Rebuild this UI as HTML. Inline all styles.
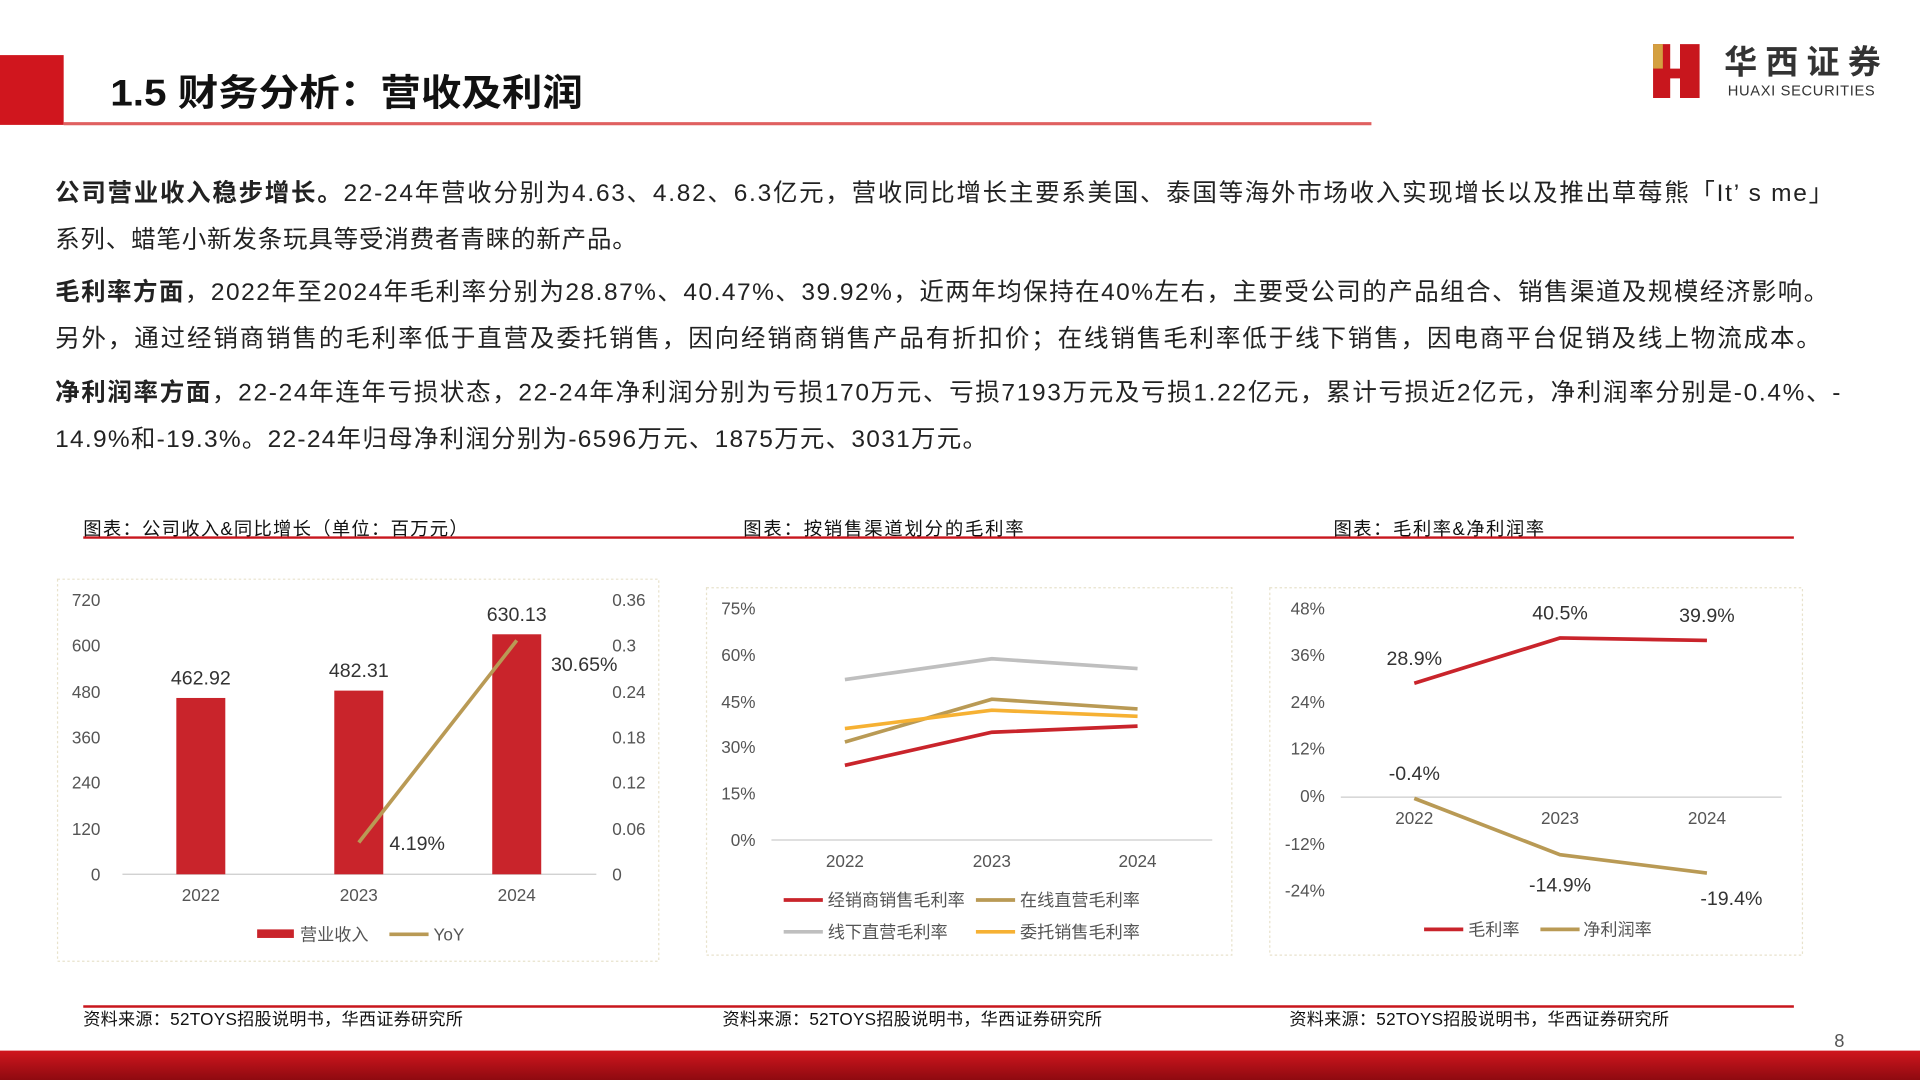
<!DOCTYPE html>
<html><head><meta charset="utf-8"><style>
html,body{margin:0;padding:0;background:#fff;}
svg{display:block;}
text{font-family:"Liberation Sans","Noto Sans CJK SC",sans-serif;}
</style></head><body>
<svg width="1920" height="1080" viewBox="0 0 1568 882" xmlns="http://www.w3.org/2000/svg">
<rect width="1568" height="882" fill="#fff"/>
<rect x="0" y="45" width="52" height="57" fill="#d0161e"/>
<line x1="52" y1="101" x2="1120" y2="101" stroke="#e06060" stroke-width="2.5"/>
<text x="90" y="86" font-size="30" font-weight="bold" fill="#111" textLength="386" lengthAdjust="spacingAndGlyphs">1.5 财务分析：营收及利润</text>
<path d="M1350 36 h14 v44 h-14z M1372 36 h16 v44 h-16z M1360 56 h20 v8 h-20z" fill="#c8161d"/>
<path d="M1350 36 h8 v20 h-8z" fill="#d4a040"/>
<text x="1408" y="60" font-size="27" font-weight="bold" fill="#333" textLength="128">华西证券</text>
<text x="1411" y="78" font-size="12" fill="#333" textLength="120">HUAXI SECURITIES</text>
<g font-size="20" fill="#222">
<text x="45" y="164" textLength="1452" lengthAdjust="spacing"><tspan font-weight="bold">公司营业收入稳步增长。</tspan>22-24年营收分别为4.63、4.82、6.3亿元，营收同比增长主要系美国、泰国等海外市场收入实现增长以及推出草莓熊「It’ s me」</text>
<text x="45" y="202" textLength="475" lengthAdjust="spacing">系列、蜡笔小新发条玩具等受消费者青睐的新产品。</text>
<text x="45" y="245" textLength="1448" lengthAdjust="spacing"><tspan font-weight="bold">毛利率方面</tspan>，2022年至2024年毛利率分别为28.87%、40.47%、39.92%，近两年均保持在40%左右，主要受公司的产品组合、销售渠道及规模经济影响。</text>
<text x="45" y="283" textLength="1442" lengthAdjust="spacing">另外，通过经销商销售的毛利率低于直营及委托销售，因向经销商销售产品有折扣价；在线销售毛利率低于线下销售，因电商平台促销及线上物流成本。</text>
<text x="45" y="327" textLength="1458" lengthAdjust="spacing"><tspan font-weight="bold">净利润率方面</tspan>，22-24年连年亏损状态，22-24年净利润分别为亏损170万元、亏损7193万元及亏损1.22亿元，累计亏损近2亿元，净利润率分别是-0.4%、-</text>
<text x="45" y="365" textLength="761" lengthAdjust="spacing">14.9%和-19.3%。22-24年归母净利润分别为-6596万元、1875万元、3031万元。</text>
</g>
<g font-size="15" fill="#111">
<text x="68" y="437" textLength="314">图表：公司收入&amp;同比增长（单位：百万元）</text>
<text x="607" y="437" textLength="229">图表：按销售渠道划分的毛利率</text>
<text x="1089" y="437" textLength="172">图表：毛利率&amp;净利润率</text>
</g>
<line x1="68" y1="439" x2="1465" y2="439" stroke="#c8161d" stroke-width="2"/>
<g fill="none" stroke="#e8e2cc" stroke-width="1" stroke-dasharray="2,2">
<rect x="47" y="473" width="491" height="312"/>
<rect x="577" y="480" width="429" height="300"/>
<rect x="1037" y="480" width="435" height="300"/>
</g>
<g font-size="14" fill="#555">
<g text-anchor="end">
<text x="82" y="495">720</text><text x="82" y="532">600</text><text x="82" y="570">480</text><text x="82" y="607">360</text><text x="82" y="644">240</text><text x="82" y="682">120</text><text x="82" y="719">0</text>
</g>
<text x="500" y="495">0.36</text><text x="500" y="532">0.3</text><text x="500" y="570">0.24</text><text x="500" y="607">0.18</text><text x="500" y="644">0.12</text><text x="500" y="682">0.06</text><text x="500" y="719">0</text>
<text x="164" y="736" text-anchor="middle">2022</text><text x="293" y="736" text-anchor="middle">2023</text><text x="422" y="736" text-anchor="middle">2024</text>
</g>
<line x1="100" y1="714" x2="487" y2="714" stroke="#ccc"/>
<rect x="144" y="570" width="40" height="144" fill="#c9242b"/>
<rect x="273" y="564" width="40" height="150" fill="#c9242b"/>
<rect x="402" y="518" width="40" height="196" fill="#c9242b"/>
<g font-size="16" fill="#333" text-anchor="middle">
<text x="164" y="559">462.92</text><text x="293" y="553">482.31</text><text x="422" y="507">630.13</text>
</g>
<polyline points="293,688 422,523" fill="none" stroke="#b99a55" stroke-width="3"/>
<g font-size="16" fill="#333"><text x="318" y="694">4.19%</text><text x="450" y="548">30.65%</text></g>
<rect x="210" y="759" width="30" height="7" fill="#c9242b"/>
<text x="245" y="768" font-size="14" fill="#555">营业收入</text>
<line x1="318" y1="763" x2="350" y2="763" stroke="#b99a55" stroke-width="3"/>
<text x="354" y="768" font-size="14" fill="#555">YoY</text>
<g font-size="14" fill="#555" text-anchor="end">
<text x="617" y="502">75%</text><text x="617" y="540">60%</text><text x="617" y="578">45%</text><text x="617" y="615">30%</text><text x="617" y="653">15%</text><text x="617" y="691">0%</text>
</g>
<g font-size="14" fill="#555" text-anchor="middle"><text x="690" y="708">2022</text><text x="810" y="708">2023</text><text x="929" y="708">2024</text></g>
<line x1="630" y1="686" x2="990" y2="686" stroke="#ccc"/>
<g fill="none" stroke-width="3">
<polyline points="690,555 810,538 929,546" stroke="#bfbfbf"/>
<polyline points="690,606 810,571 929,579" stroke="#b99a55"/>
<polyline points="690,595 810,580 929,585" stroke="#f6b133"/>
<polyline points="690,625 810,598 929,593" stroke="#c9242b"/>
</g>
<g font-size="14" fill="#555">
<line x1="640" y1="735" x2="672" y2="735" stroke="#c9242b" stroke-width="3"/><text x="676" y="740">经销商销售毛利率</text>
<line x1="797" y1="735" x2="829" y2="735" stroke="#b99a55" stroke-width="3"/><text x="833" y="740">在线直营毛利率</text>
<line x1="640" y1="761" x2="672" y2="761" stroke="#bfbfbf" stroke-width="3"/><text x="676" y="766">线下直营毛利率</text>
<line x1="797" y1="761" x2="829" y2="761" stroke="#f6b133" stroke-width="3"/><text x="833" y="766">委托销售毛利率</text>
</g>
<g font-size="14" fill="#555" text-anchor="end">
<text x="1082" y="502">48%</text><text x="1082" y="540">36%</text><text x="1082" y="578">24%</text><text x="1082" y="616">12%</text><text x="1082" y="655">0%</text><text x="1082" y="694">-12%</text><text x="1082" y="732">-24%</text>
</g>
<line x1="1095" y1="651" x2="1455" y2="651" stroke="#ccc"/>
<g font-size="14" fill="#555" text-anchor="middle"><text x="1155" y="673">2022</text><text x="1274" y="673">2023</text><text x="1394" y="673">2024</text></g>
<polyline points="1155,558 1274,521 1394,523" fill="none" stroke="#c9242b" stroke-width="3"/>
<polyline points="1155,652 1274,698 1394,713" fill="none" stroke="#b99a55" stroke-width="3"/>
<g font-size="16" fill="#333" text-anchor="middle">
<text x="1155" y="543">28.9%</text><text x="1274" y="506">40.5%</text><text x="1394" y="508">39.9%</text>
<text x="1155" y="637">-0.4%</text><text x="1274" y="728">-14.9%</text><text x="1414" y="739">-19.4%</text>
</g>
<g font-size="14" fill="#555">
<line x1="1163" y1="759" x2="1195" y2="759" stroke="#c9242b" stroke-width="3"/><text x="1199" y="764">毛利率</text>
<line x1="1258" y1="759" x2="1290" y2="759" stroke="#b99a55" stroke-width="3"/><text x="1293" y="764">净利润率</text>
</g>
<line x1="68" y1="822" x2="1465" y2="822" stroke="#c8161d" stroke-width="2"/>
<g font-size="14" fill="#111">
<text x="68" y="837" textLength="310">资料来源：52TOYS招股说明书，华西证券研究所</text>
<text x="590" y="837" textLength="310">资料来源：52TOYS招股说明书，华西证券研究所</text>
<text x="1053" y="837" textLength="310">资料来源：52TOYS招股说明书，华西证券研究所</text>
</g>
<text x="1498" y="855" font-size="15" fill="#555">8</text>
<defs><linearGradient id="bg" x1="0" y1="0" x2="0" y2="1"><stop offset="0" stop-color="#d0161e"/><stop offset="1" stop-color="#8e0a10"/></linearGradient></defs>
<rect x="0" y="858" width="1568" height="24" fill="url(#bg)"/>
</svg>
</body></html>
